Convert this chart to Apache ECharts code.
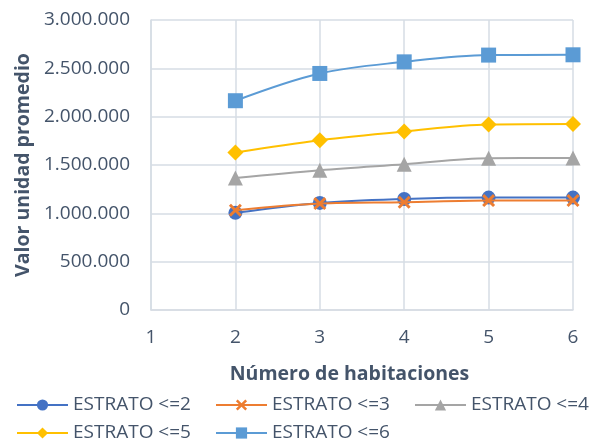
<!DOCTYPE html>
<html>
<head>
<meta charset="utf-8">
<script src="https://cdn.jsdelivr.net/npm/echarts@6/dist/echarts.min.js"></script>
<style>
html,body{margin:0;padding:0;background:#fff;}
#chart{width:597px;height:442px;}
</style>
</head>
<body>
<div id="chart"></div>
<script>
var categories = [2, 3, 4, 5, 6];
var seriesNames = ['ESTRATO <=2', 'ESTRATO <=3', 'ESTRATO <=4', 'ESTRATO <=5', 'ESTRATO <=6'];
var estrato2 = [1005000, 1108000, 1149000, 1163000, 1163000];
var estrato3 = [1032000, 1101000, 1115000, 1132000, 1133000];
var estrato4 = [1366000, 1446000, 1508000, 1570000, 1572000];
var estrato5 = [1630000, 1757000, 1847000, 1919000, 1925000];
var estrato6 = [2165000, 2447000, 2567000, 2637000, 2640000];
var xTicks = [1, 2, 3, 4, 5, 6];
var yTicks = [0, 500000, 1000000, 1500000, 2000000, 2500000, 3000000];

var colors = ['#4472C4', '#ED7D31', '#A5A5A5', '#FFC000', '#5B9BD5'];
var symbols = [
  'circle',
  'path://M0,1.6L1.6,0L5,3.4L8.4,0L10,1.6L6.6,5L10,8.4L8.4,10L5,6.6L1.6,10L0,8.4L3.4,5Z',
  'triangle',
  'diamond',
  'rect'
];
var sizes = [14, 13, 15, 16, 15];
var allValues = [estrato2, estrato3, estrato4, estrato5, estrato6];
var textColor = '#44546A';
var fontFam = '"Open Sans", sans-serif';

function fmt(v) {
  return String(v).replace(/\B(?=(\d{3})+(?!\d))/g, '.');
}

var series = allValues.map(function (vals, i) {
  return {
    name: seriesNames[i],
    type: 'line',
    smooth: 0.35,
    data: categories.map(function (c, j) { return [c, vals[j]]; }),
    symbol: symbols[i],
    symbolSize: sizes[i],
    showAllSymbol: true,
    color: colors[i],
    lineStyle: { color: colors[i], width: 2 },
    itemStyle: { color: colors[i] },
    z: 2 + i
  };
});

var legendBase = {
  left: 16,
  width: 590,
  padding: 0,
  itemWidth: 51,
  itemHeight: 14,
  itemGap: 22,
  textStyle: { fontSize: 19, color: textColor, fontFamily: fontFam, width: 120, lineHeight: 20 }
};

var chart = echarts.init(document.getElementById('chart'), null, { renderer: 'canvas' });
chart.setOption({
  animation: false,
  backgroundColor: '#fff',
  textStyle: { fontFamily: fontFam, color: textColor },
  grid: { left: 151, right: 24, top: 20, bottom: 132, containLabel: false },
  xAxis: {
    type: 'value',
    min: xTicks[0],
    max: xTicks[xTicks.length - 1],
    interval: 1,
    name: 'Número de habitaciones',
    nameLocation: 'middle',
    nameGap: 54,
    nameTextStyle: { fontFamily: fontFam, fontSize: 19.5, fontWeight: 'bold', color: textColor, padding: [0, 25, 0, 0] },
    axisLine: { show: true, lineStyle: { color: '#D6DCE4', width: 1.5 } },
    axisTick: { show: false },
    splitLine: { show: true, lineStyle: { color: '#D6DCE4', width: 1.5 } },
    axisLabel: { margin: 18, fontSize: 19, color: textColor, fontFamily: fontFam }
  },
  yAxis: {
    type: 'value',
    min: yTicks[0],
    max: yTicks[yTicks.length - 1],
    interval: 500000,
    name: 'Valor unidad promedio',
    nameLocation: 'middle',
    nameRotate: 90,
    nameGap: 115,
    nameTextStyle: { fontFamily: fontFam, fontSize: 19.5, fontWeight: 'bold', color: textColor },
    axisLine: { show: true, lineStyle: { color: '#D6DCE4', width: 1.5 } },
    axisTick: { show: false },
    splitLine: { show: true, lineStyle: { color: '#D6DCE4', width: 1.5 } },
    axisLabel: { margin: 21, fontSize: 19, color: textColor, fontFamily: fontFam, formatter: fmt }
  },
  legend: [
    Object.assign({}, legendBase, { top: 395, data: seriesNames.slice(0, 3) }),
    Object.assign({}, legendBase, { top: 423, data: seriesNames.slice(3) })
  ],
  series: series
});
</script>
</body>
</html>
